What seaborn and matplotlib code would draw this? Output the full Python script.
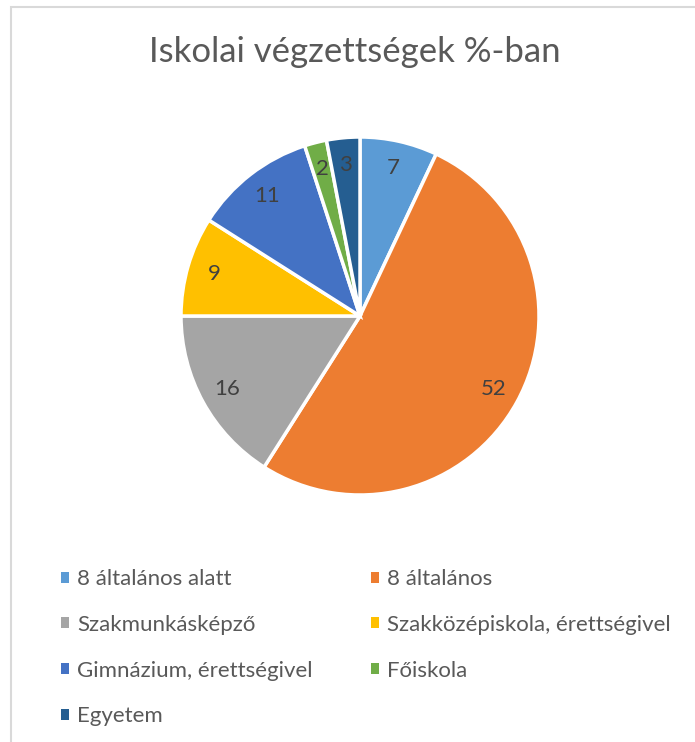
import matplotlib.pyplot as plt
import seaborn as sns
from matplotlib.patches import Patch, Rectangle

# Data
categories = [
    "8 általános alatt",
    "8 általános",
    "Szakmunkásképző",
    "Szakközépiskola, érettségivel",
    "Gimnázium, érettségivel",
    "Főiskola",
    "Egyetem",
]
values = [7, 52, 16, 9, 11, 2, 3]
colors = ["#5B9BD5", "#ED7D31", "#A5A5A5", "#FFC000", "#4472C4", "#70AD47", "#255E91"]
title = "Iskolai végzettségek %-ban"

sns.set_theme(style="white")
plt.rcParams["font.family"] = ["Lato", "DejaVu Sans"]

W, H = 695, 742
fig = plt.figure(figsize=(W / 100, H / 100), dpi=100)

# chart border (light gray, like the Excel chart area)
fig.patches.append(
    Rectangle((10.5 / W, -0.1), 1.2, (H - 6.5) / H + 0.1, transform=fig.transFigure,
              fill=False, edgecolor="#D9D9D9", linewidth=1.5)
)

# pie axes: center (360, 316) px, radius 179 px
cx, cy, r = 360, 316, 179
ax = fig.add_axes([(cx - r) / W, (H - cy - r) / H, 2 * r / W, 2 * r / H])
wedges, texts = ax.pie(
    values,
    colors=colors,
    startangle=90,
    counterclock=False,
    labels=[str(v) for v in values],
    labeldistance=0.85,
    wedgeprops=dict(edgecolor="white", linewidth=2.5),
    textprops=dict(color="#404040", fontsize=16),
)
for t in texts:
    t.set_horizontalalignment("center")
    t.set_verticalalignment("center")
ax.set_xlim(-1, 1)
ax.set_ylim(-1, 1)
ax.set_aspect("equal")
ax.axis("off")

fig.text(355 / W, 1 - 52 / H, title, ha="center", va="center",
         fontsize=25, color="#595959")

# legend, filled row by row in two columns
handles = [Patch(facecolor=c, edgecolor="none") for c in colors]
col_x = [61 / W, 371 / W]
for k, x0 in enumerate(col_x):
    idx = list(range(k, len(categories), 2))
    fig.legend(
        [handles[i] for i in idx],
        [categories[i] for i in idx],
        loc="upper left",
        bbox_to_anchor=(x0, 1 - 569 / H),
        frameon=False,
        fontsize=16,
        handlelength=0.38,
        handleheight=0.38,
        handletextpad=0.36,
        labelspacing=1.16,
        labelcolor="#595959",
        borderaxespad=0,
        borderpad=0,
    )

fig.savefig("out.png", dpi=100, facecolor="white")
